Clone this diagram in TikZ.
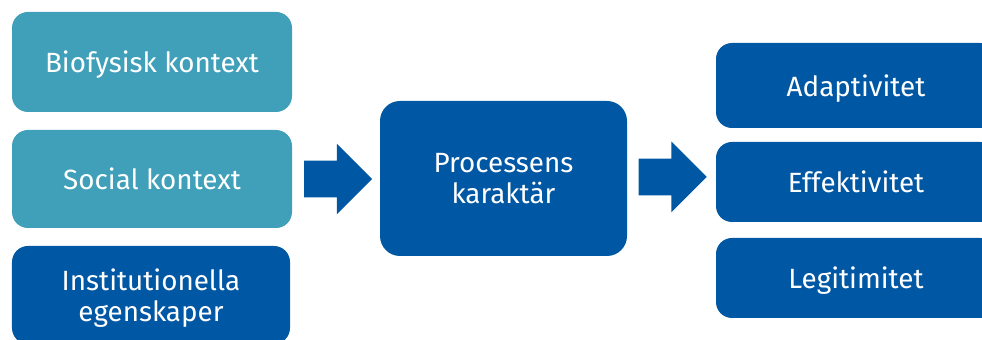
\documentclass[tikz,border=0pt]{standalone}
\usepackage{fontspec}
\setmainfont{Fira Sans}
\usetikzlibrary{shapes.arrows}

\definecolor{tuerkis}{RGB}{64,160,185}
\definecolor{dunkelblau}{RGB}{0,87,164}

\tikzset{
  kasten/.style={fill=#1, text=white, rounded corners=0.4cm, align=center,
    inner sep=0pt, text depth=0pt, font=\fontsize{19.8}{22.5}\selectfont},
  pfeil/.style={single arrow, fill=dunkelblau, inner xsep=0pt, inner ysep=0.45cm,
    minimum height=1.7cm,
    single arrow head extend=0.425cm, single arrow tip angle=90}
}

\begin{document}
\begin{tikzpicture}
    \useasboundingbox (0, 0) rectangle (24.55, 8.5);

    % Einflussfaktoren links
    \node (bio)  [kasten=tuerkis, minimum width=7cm, minimum height=2.5cm]
        at (3.8, 6.95)  {Biofysisk kontext};
    \node (soc)  [kasten=tuerkis, minimum width=7cm, minimum height=2.45cm]
        at (3.8, 4.025) {Social kontext};
    \node (inst) [kasten=dunkelblau, minimum width=6.95cm, minimum height=2.45cm]
        at (3.775, 1.125) {Institutionella\\egenskaper};

    % Prozess in der Mitte
    \node (proc) [kasten=dunkelblau, rounded corners=0.5cm,
        minimum width=6.175cm, minimum height=3.875cm]
        at (12.5875, 4.0375) {Processens\\karaktär};

    % Ergebnisse rechts
    \node (adapt) [kasten=dunkelblau, minimum width=7cm, minimum height=2.125cm]
        at (21.4, 6.3625) {Adaptivitet};
    \node (eff)   [kasten=dunkelblau, minimum width=7cm, minimum height=2cm]
        at (21.4, 3.95)   {Effektivitet};
    \node (leg)   [kasten=dunkelblau, minimum width=7cm, minimum height=2cm]
        at (21.4, 1.55)   {Legitimitet};

    % Blockpfeile
    \node (pfeil1) [pfeil] at (8.225, 4.025) {};
    \node (pfeil2) [pfeil] at (16.59, 4.075) {};
\end{tikzpicture}
\end{document}
